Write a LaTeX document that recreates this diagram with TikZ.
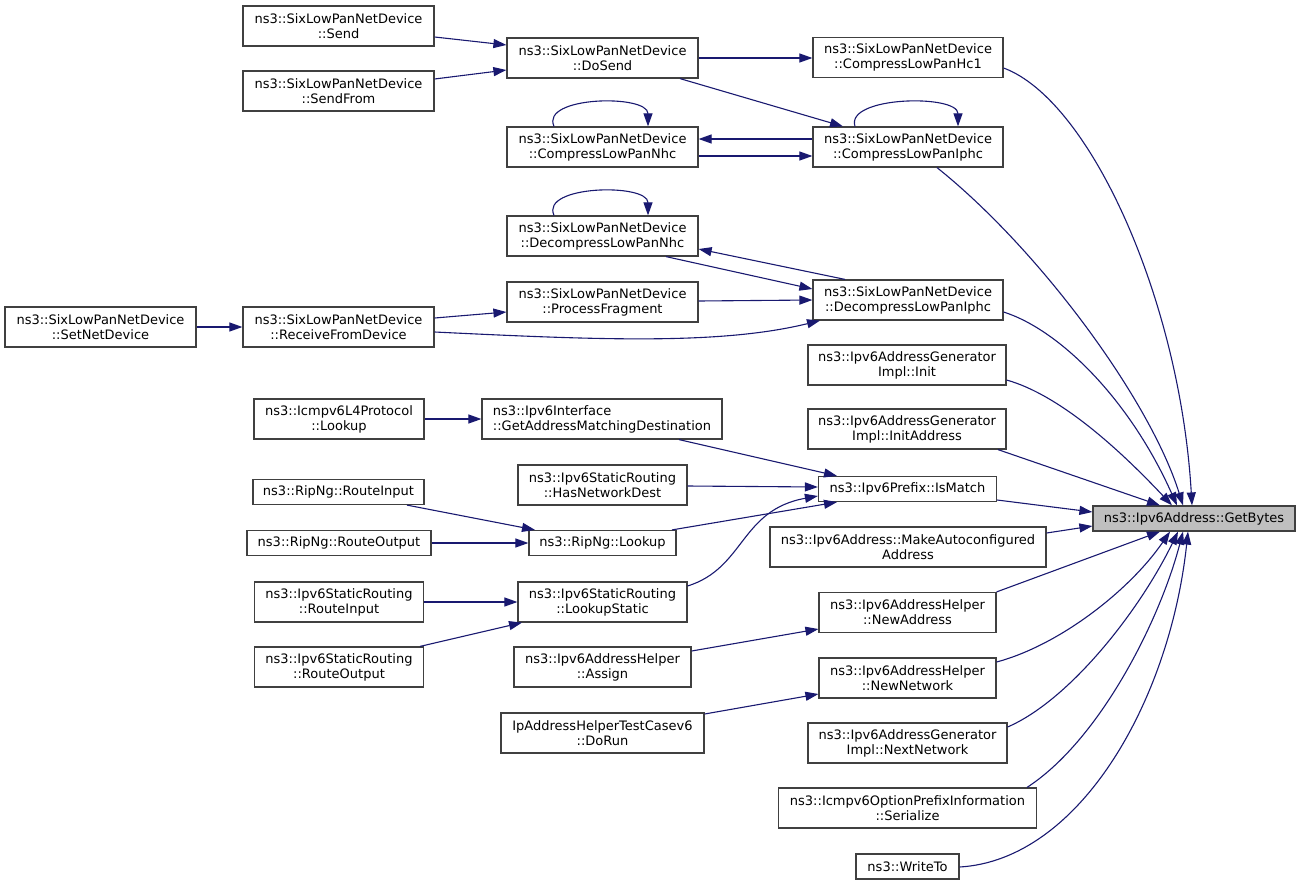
\documentclass[tikz,border=0pt]{standalone}
\usepackage{fontspec}
\setmainfont{DejaVu Sans}
\usetikzlibrary{arrows.meta}
\definecolor{edgeblue}{HTML}{191970}
\definecolor{boxborder}{HTML}{404040}
\definecolor{boxfill}{HTML}{BFBFBF}
\tikzset{
  box/.style={draw=boxborder, line width=1.2pt, fill=white, inner sep=0pt, align=center,
    font=\fontsize{13}{15}\selectfont, text=black},
  bw/.style={minimum width=#1pt},
  tall/.style={minimum height=40pt},
  short/.style={minimum height=25pt},
  edge/.style={draw=edgeblue, line width=1.1pt, -{Triangle[length=13pt,width=9pt]}}
}
\begin{document}
\begin{tikzpicture}[x=1pt,y=-1pt]
\useasboundingbox (0,0) rectangle (1300,886);
% main
\node[box, bw=202, short, fill=boxfill] (getbytes) at (1194,518.5) {ns3::Ipv6Address::GetBytes};
% column 1
\node[box, bw=190, tall] (hc1) at (908,57.5) {ns3::SixLowPanNetDevice\\::CompressLowPanHc1};
\node[box, bw=190, tall] (ciphc) at (908,147) {ns3::SixLowPanNetDevice\\::CompressLowPanIphc};
\node[box, bw=190, tall] (diphc) at (908,300) {ns3::SixLowPanNetDevice\\::DecompressLowPanIphc};
\node[box, bw=198, tall] (init) at (907,365) {ns3::Ipv6AddressGenerator\\Impl::Init};
\node[box, bw=198, tall] (initaddr) at (907,429) {ns3::Ipv6AddressGenerator\\Impl::InitAddress};
\node[box, bw=178, short] (ismatch) at (907.5,489) {ns3::Ipv6Prefix::IsMatch};
\node[box, bw=276, tall] (makeauto) at (908,547) {ns3::Ipv6Address::MakeAutoconfigured\\Address};
\node[box, bw=177, tall] (newaddr) at (907.5,612.5) {ns3::Ipv6AddressHelper\\::NewAddress};
\node[box, bw=177, tall] (newnet) at (907.5,678) {ns3::Ipv6AddressHelper\\::NewNetwork};
\node[box, bw=199, tall] (nextnet) at (907.5,743) {ns3::Ipv6AddressGenerator\\Impl::NextNetwork};
\node[box, bw=258, tall] (serialize) at (907.5,808) {ns3::Icmpv6OptionPrefixInformation\\::Serialize};
\node[box, bw=103, short] (writeto) at (907.5,866.5) {ns3::WriteTo};
% column 2
\node[box, bw=191, tall] (dosend) at (602.5,58) {ns3::SixLowPanNetDevice\\::DoSend};
\node[box, bw=191, tall] (cnhc) at (602.5,147) {ns3::SixLowPanNetDevice\\::CompressLowPanNhc};
\node[box, bw=191, tall] (dnhc) at (602.5,236) {ns3::SixLowPanNetDevice\\::DecompressLowPanNhc};
\node[box, bw=191, tall] (procfrag) at (602.5,302) {ns3::SixLowPanNetDevice\\::ProcessFragment};
\node[box, bw=240, tall, align=left] (getaddr) at (602,419) {ns3::Ipv6Interface\\::GetAddressMatchingDestination};
\node[box, bw=169, tall] (hasnet) at (602.5,485) {ns3::Ipv6StaticRouting\\::HasNetworkDest};
\node[box, bw=147, short] (ripnglookup) at (602.5,543) {ns3::RipNg::Lookup};
\node[box, bw=169, tall] (lookupstatic) at (602.5,602) {ns3::Ipv6StaticRouting\\::LookupStatic};
\node[box, bw=177, tall] (assign) at (602.5,667) {ns3::Ipv6AddressHelper\\::Assign};
\node[box, bw=203, tall] (dorun) at (602.5,733) {IpAddressHelperTestCasev6\\::DoRun};
% column 3
\node[box, bw=191, tall] (send) at (338.5,26) {ns3::SixLowPanNetDevice\\::Send};
\node[box, bw=191, tall] (sendfrom) at (338.5,91) {ns3::SixLowPanNetDevice\\::SendFrom};
\node[box, bw=191, tall] (recv) at (338.5,327) {ns3::SixLowPanNetDevice\\::ReceiveFromDevice};
\node[box, bw=170, tall] (icmplookup) at (339,419) {ns3::Icmpv6L4Protocol\\::Lookup};
\node[box, bw=171, short] (routeinput) at (338.5,492) {ns3::RipNg::RouteInput};
\node[box, bw=184, short] (routeoutput) at (339,543) {ns3::RipNg::RouteOutput};
\node[box, bw=169, tall] (sroutein) at (339,602) {ns3::Ipv6StaticRouting\\::RouteInput};
\node[box, bw=169, tall] (srouteout) at (339,667) {ns3::Ipv6StaticRouting\\::RouteOutput};
% column 4
\node[box, bw=191, tall] (setnet) at (100.5,327) {ns3::SixLowPanNetDevice\\::SetNetDevice};

% edges
\draw[edge] (send.east |- 0,37) -- (dosend.west |- 0,45);
\draw[edge] (sendfrom.east |- 0,79) -- (dosend.west |- 0,70);
\draw[edge] (dosend.east) -- (hc1.west |- dosend.east);
\draw[edge] (dosend.south -| 680,0) -- (ciphc.north -| 843,0);
\draw[edge] (ciphc.west |- 0,139) -- (cnhc.east |- 0,139);
\draw[edge] (cnhc.east |- 0,156) -- (ciphc.west |- 0,156);
\draw[edge] (ciphc.north -| 855,0) .. controls (845,96) and (958,94) .. (ciphc.north -| 958,0);
\draw[edge] (cnhc.north -| 554,0) .. controls (540,96) and (648,94) .. (cnhc.north -| 648,0);
\draw[edge] (dnhc.north -| 554,0) .. controls (540,185) and (648,183) .. (dnhc.north -| 648,0);
\draw[edge] (diphc.north -| 845,0) -- (dnhc.east |- 0,249);
\draw[edge] (dnhc.south -| 666,0) -- (diphc.west |- 0,289);
\draw[edge] (procfrag.east |- 0,301) -- (diphc.west |- 0,300);
\draw[edge] (recv.east |- 0,318) -- (procfrag.west |- 0,312);
\draw[edge] (recv.east |- 0,332) .. controls (600,340) and (720,345) .. (diphc.south -| 820,0);
\draw[edge] (setnet.east) -- (recv.west);
\draw[edge] (icmplookup.east) -- (getaddr.west);
\draw[edge] (getaddr.south -| 679,0) -- (ismatch.north -| 837,0);
\draw[edge] (hasnet.east |- 0,486) -- (ismatch.west |- 0,487);
\draw[edge] (ripnglookup.north -| 672,0) -- (ismatch.south -| 837,0);
\draw[edge] (lookupstatic.east |- 0,586) .. controls (745,568) and (740,510) .. (ismatch.west |- 0,496);
\draw[edge] (routeinput.south -| 407,0) -- (ripnglookup.north -| 535,0);
\draw[edge] (routeoutput.east) -- (ripnglookup.west);
\draw[edge] (sroutein.east) -- (lookupstatic.west);
\draw[edge] (srouteout.north -| 420,0) -- (lookupstatic.south -| 522,0);
\draw[edge] (assign.east |- 0,651) -- (newaddr.west |- 0,629);
\draw[edge] (dorun.east |- 0,714) -- (newnet.west |- 0,694);
% into GetBytes
\draw[edge] (hc1.east |- 0,68) .. controls (1090,100) and (1180,300) .. (getbytes.north -| 1192,0);
\draw[edge] (ciphc.south -| 937,0) .. controls (1040,250) and (1150,400) .. (getbytes.north -| 1183,0);
\draw[edge] (diphc.east |- 0,312) .. controls (1060,330) and (1130,400) .. (getbytes.north -| 1177,0);
\draw[edge] (init.east |- 0,380) .. controls (1060,395) and (1120,450) .. (getbytes.north -| 1172,0);
\draw[edge] (initaddr.south -| 998,0) -- (getbytes.north -| 1160,0);
\draw[edge] (ismatch.east |- 0,500) -- (getbytes.west |- 0,512);
\draw[edge] (makeauto.east |- 0,533) -- (getbytes.west |- 0,526);
\draw[edge] (newaddr.north east) -- (getbytes.south -| 1160,0);
\draw[edge] (newnet.east |- 0,662) .. controls (1060,645) and (1130,590) .. (getbytes.south -| 1170,0);
\draw[edge] (nextnet.east |- 0,727) .. controls (1070,700) and (1140,610) .. (getbytes.south -| 1178,0);
\draw[edge] (serialize.north -| 1027,0) .. controls (1100,740) and (1160,620) .. (getbytes.south -| 1183,0);
\draw[edge] (writeto.east |- 0,867) .. controls (1080,860) and (1170,700) .. (getbytes.south -| 1188,0);
\end{tikzpicture}
\end{document}
